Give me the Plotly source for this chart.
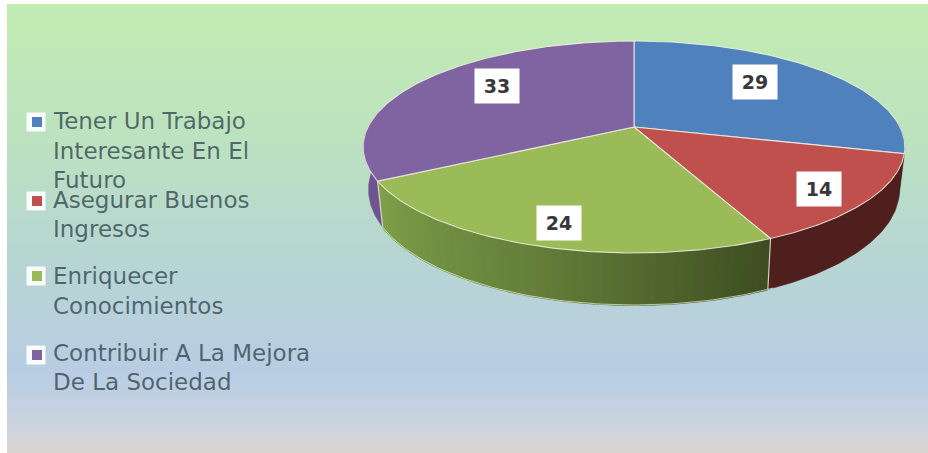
import numpy as np
import plotly.graph_objects as go

categories = ["Tener Un Trabajo Interesante En El Futuro", "Asegurar Buenos Ingresos",
              "Enriquecer Conocimientos", "Contribuir A La Mejora De La Sociedad"]
values = [29, 14, 24, 33]

# presentation constants (separate from the data)
top_colors = ["#4f81bd", "#c0504d", "#9bbb59", "#8064a2"]
side_colors = ["#2b4a70", "#4e1f1d", None, "#6f5590"]
legend_lines = [["Tener Un Trabajo", "Interesante En El", "Futuro"],
                ["Asegurar Buenos", "Ingresos"],
                ["Enriquecer", "Conocimientos"],
                ["Contribuir A La Mejora", "De La Sociedad"]]
legend_text_y = [[121, 151, 180], [200, 229], [276, 306], [353, 382]]
legend_marker_y = [122, 201, 276, 355]
label_xy = [(755, 82), (819, 189), (559, 223), (497, 86)]
W, H = 928, 453
CX, CY, A, B, K = 634, 127, 266, 102.2, 0.1887


def project(t, r=1.0):
    x, y = r * np.sin(t), r * np.cos(t)
    w = 1 + K * y
    return CX + A * x / w, CY - B * y / w


def project_low(t):
    x, y = np.sin(t), np.cos(t)
    w = 1 + K * y
    return CX + 0.98 * A * x / w, CY - B * y / w + 40.5 - 11.5 * y


def mix(stops, f):
    n = len(stops) - 1
    i = min(int(f * n), n - 1)
    g = f * n - i
    c = [stops[i][k] * (1 - g) + stops[i + 1][k] * g for k in range(3)]
    return "rgb(%d,%d,%d)" % tuple(c)


fig = go.Figure()

# gradient background
edges = np.linspace(4, H, 226)
centres = (edges[:-1] + edges[1:]) / 2
fig.add_trace(go.Heatmap(
    x=[7, W], y=edges, z=[[c] for c in centres], zmin=4, zmax=H, showscale=False,
    hoverinfo="skip",
    colorscale=[[0, "#c3ecb2"], [0.3, "#bce2bf"], [0.55, "#b7d6d2"], [0.82, "#b8cde3"],
                [0.95, "#cdd4df"], [0.97, "#d6d4d6"], [1, "#d8d4d4"]]))

# slice angles, clockwise from the top
fractions = np.array(values) / sum(values)
ends = np.cumsum(fractions) * 2 * np.pi
starts = np.concatenate([[0], ends[:-1]])
VIS_LO, VIS_HI = np.radians(88), np.radians(282)
green_stops = [(128, 160, 74), (101, 128, 58), (62, 77, 34)]


def add_poly(xs, ys, fill, line=None, lw=1.6):
    fig.add_trace(go.Scatter(x=xs, y=ys, mode="lines", fill="toself", fillcolor=fill,
                             line=dict(color=line or fill, width=lw), hoverinfo="skip",
                             showlegend=False))


# side wall
for i in range(4):
    lo, hi = max(starts[i], VIS_LO), min(ends[i], VIS_HI)
    if hi <= lo:
        continue
    if side_colors[i] is None:
        n = 48
        bounds = np.linspace(lo, hi, n + 1)
        for j in range(n):
            ts = np.linspace(bounds[j], bounds[j + 1], 4)
            xt, yt = project(ts)
            xl, yl = project_low(ts[::-1])
            # stops run left (large angle) to right (small angle)
            add_poly(np.r_[xt, xl], np.r_[yt, yl], mix(green_stops, 1 - (j + 0.5) / n))
    else:
        ts = np.linspace(lo, hi, 60)
        xt, yt = project(ts)
        xl, yl = project_low(ts[::-1])
        add_poly(np.r_[xt, xl], np.r_[yt, yl], side_colors[i], lw=0.6)

# light rim below the wall and at the wall joints
ts = np.linspace(starts[2] - 0.02, ends[2], 80)
xl, yl = project_low(ts)
fig.add_trace(go.Scatter(x=xl, y=yl, mode="lines", line=dict(color="rgba(235,245,220,0.7)", width=1),
                         hoverinfo="skip", showlegend=False))
for t in (ends[1], ends[2]):
    xa, ya = project(t)
    xb, yb = project_low(t)
    fig.add_trace(go.Scatter(x=[xa, xb], y=[ya, yb], mode="lines",
                             line=dict(color="rgba(240,240,225,0.8)", width=1.2),
                             hoverinfo="skip", showlegend=False))

# top faces
for i in range(4):
    ts = np.linspace(starts[i], ends[i], 120)
    xt, yt = project(ts)
    add_poly(np.r_[CX, xt, CX], np.r_[CY, yt, CY], top_colors[i], "rgba(238,238,225,0.85)", 1.1)

# legend markers
fig.add_trace(go.Scatter(x=[36] * 4, y=legend_marker_y, mode="markers", hoverinfo="skip", showlegend=False,
                         marker=dict(symbol="square", size=19, color="rgba(255,255,255,0.93)")))
fig.add_trace(go.Scatter(x=[37] * 4, y=legend_marker_y, mode="markers", hoverinfo="skip", showlegend=False,
                         marker=dict(symbol="square", size=10, color=top_colors)))

annotations = []
for lines, ys in zip(legend_lines, legend_text_y):
    for line, y in zip(lines, ys):
        annotations.append(dict(x=51, y=y, text=line, showarrow=False, xanchor="left", yanchor="middle",
                                font=dict(family="DejaVu Sans", size=23, color="rgba(50,70,80,0.78)")))
for v, (lx, ly) in zip(values, label_xy):
    annotations.append(dict(x=lx, y=ly, text="<b>%d</b>" % v, showarrow=False, bgcolor="white",
                            width=44, height=34, align="center", valign="middle", borderpad=0,
                            font=dict(family="DejaVu Sans", size=19, color="#383838")))

fig.update_layout(
    width=W, height=H, margin=dict(l=0, r=0, t=0, b=0), paper_bgcolor="white", plot_bgcolor="white",
    xaxis=dict(range=[0, W], visible=False, fixedrange=True),
    yaxis=dict(range=[H, 0], visible=False, fixedrange=True),
    annotations=annotations, showlegend=False)
fig.write_html("out.html", config={"displayModeBar": False},
               post_script="document.body.style.margin='0';document.documentElement.style.overflow='hidden';")
